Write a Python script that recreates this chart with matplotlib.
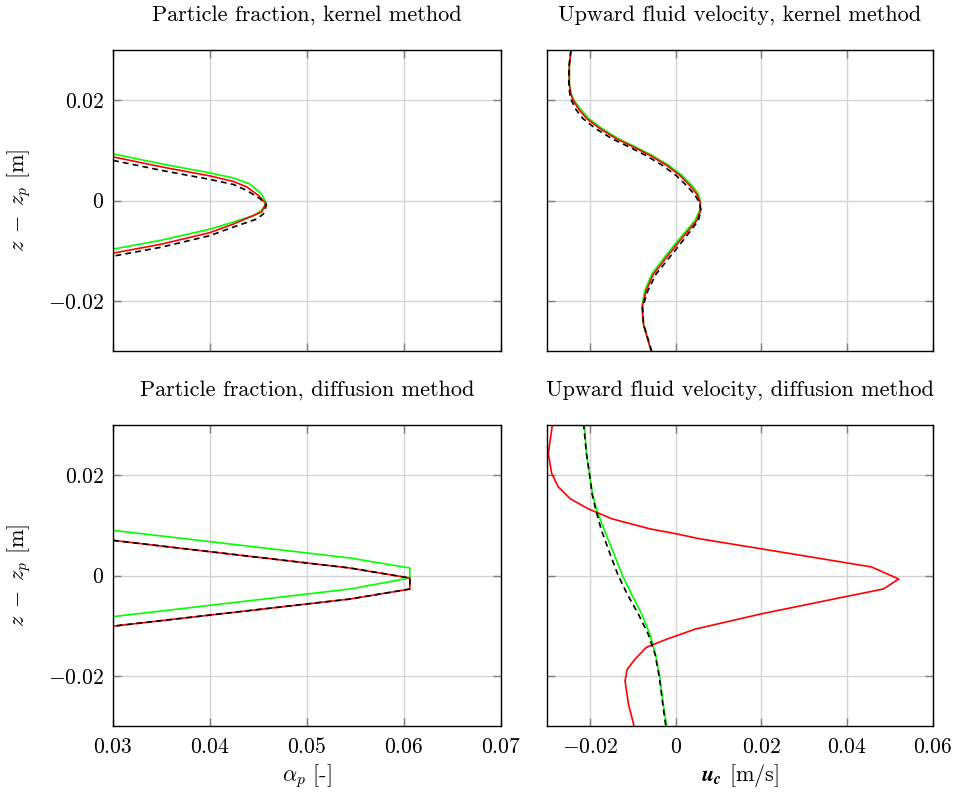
import matplotlib
matplotlib.use("Agg")
import matplotlib.pyplot as plt
from matplotlib.ticker import FixedLocator, FixedFormatter

plt.rcParams['font.family'] = 'serif'
plt.rcParams['font.serif'] = ['cmr10']
plt.rcParams['mathtext.fontset'] = 'cm'
plt.rcParams['axes.formatter.use_mathtext'] = True

# ---------------- data ----------------
# Top-left: particle fraction, kernel method (alpha_p vs z)
z_pk_green = [0.0093, 0.0073, 0.0055, 0.0045, 0.0033, 0.0013, -0.0005, -0.0020, -0.0030, -0.0043, -0.0057, -0.0079, -0.0097]
a_pk_green = [0.0300, 0.0350, 0.0400, 0.0424, 0.0441, 0.0453, 0.0458, 0.0453, 0.0445, 0.0424, 0.0400, 0.0350, 0.0300]
z_pk_red = [0.0087, 0.0067, 0.0049, 0.0038, 0.0027, 0.0010, -0.0007, -0.0023, -0.0033, -0.0047, -0.0064, -0.0087, -0.0105]
a_pk_red = [0.0300, 0.0350, 0.0400, 0.0424, 0.0438, 0.0450, 0.0458, 0.0453, 0.0441, 0.0424, 0.0400, 0.0350, 0.0300]
z_pk_black = [0.0080, 0.0060, 0.0042, 0.0032, 0.0020, 0.0003, -0.0010, -0.0027, -0.0037, -0.0053, -0.0070, -0.0093, -0.0111]
a_pk_black = [0.0300, 0.0350, 0.0400, 0.0424, 0.0438, 0.0452, 0.0458, 0.0455, 0.0448, 0.0424, 0.0400, 0.0350, 0.0300]

# Top-right: upward fluid velocity, kernel method
z_uk = [0.0300, 0.0267, 0.0233, 0.0213, 0.0200, 0.0183, 0.0163, 0.0143, 0.0123, 0.0107, 0.0090,
        0.0070, 0.0050, 0.0030, 0.0013, -0.0003, -0.0020, -0.0040, -0.0080, -0.0113, -0.0147,
        -0.0180, -0.0213, -0.0247, -0.0280, -0.0303]
u_uk_red = [-0.0244, -0.0248, -0.0248, -0.0245, -0.0239, -0.0227, -0.0207, -0.0176, -0.0138, -0.0099, -0.0060,
            -0.0021, 0.0010, 0.0033, 0.0049, 0.0057, 0.0058, 0.0049, 0.0010, -0.0021, -0.0052,
            -0.0069, -0.0078, -0.0075, -0.0064, -0.0056]
u_uk_green = [-0.0244, -0.0248, -0.0248, -0.0244, -0.0237, -0.0223, -0.0202, -0.0171, -0.0133, -0.0094, -0.0055,
              -0.0016, 0.0015, 0.0038, 0.0053, 0.0058, 0.0056, 0.0045, 0.0005, -0.0026, -0.0056,
              -0.0072, -0.0079, -0.0075, -0.0064, -0.0056]
u_uk_black = [-0.0244, -0.0249, -0.0249, -0.0247, -0.0243, -0.0234, -0.0216, -0.0186, -0.0148, -0.0109, -0.0070,
              -0.0031, 0.0001, 0.0025, 0.0043, 0.0055, 0.0059, 0.0053, 0.0017, -0.0014, -0.0046,
              -0.0065, -0.0077, -0.0075, -0.0063, -0.0055]

# Bottom-left: particle fraction, diffusion method
z_pd_green = [0.0090, 0.0035, 0.0015, -0.0005, -0.0027, -0.0082]
a_pd_green = [0.0300, 0.0544, 0.0606, 0.0606, 0.0544, 0.0300]
z_pd_red = [0.0070, 0.0015, -0.0005, -0.0027, -0.0047, -0.0101]
a_pd_red = [0.0300, 0.0544, 0.0606, 0.0606, 0.0544, 0.0300]
z_pd_black = [0.0070, 0.0015, -0.0005, -0.0027, -0.0047, -0.0101]
a_pd_black = [0.0300, 0.0544, 0.0606, 0.0606, 0.0544, 0.0300]

# Bottom-right: upward fluid velocity, diffusion method
z_ud_red = [0.0303, 0.0243, 0.0203, 0.0177, 0.0153, 0.0133, 0.0113, 0.0093, 0.0083, 0.0073, 0.0053,
            0.0017, -0.0007, -0.0027, -0.0043, -0.0077, -0.0107, -0.0127, -0.0143, -0.0167, -0.0187,
            -0.0210, -0.0257, -0.0300]
u_ud_red = [-0.0287, -0.0297, -0.0289, -0.0274, -0.0246, -0.0204, -0.0149, -0.0060, 0.0002, 0.0057, 0.0201,
            0.0457, 0.0520, 0.0484, 0.0391, 0.0197, 0.0045, -0.0021, -0.0068, -0.0095, -0.0113,
            -0.0118, -0.0110, -0.0097]
z_ud = [0.0303, 0.0243, 0.0203, 0.0163, 0.0130, 0.0090, 0.0043, 0.0000, -0.0037, -0.0077,
        -0.0117, -0.0157, -0.0203, -0.0257, -0.0300]
u_ud_green = [-0.0213, -0.0208, -0.0201, -0.0194, -0.0184, -0.0166, -0.0144, -0.0124, -0.0103, -0.0079,
              -0.0060, -0.0047, -0.0037, -0.0029, -0.0021]
u_ud_black = [-0.0215, -0.0208, -0.0201, -0.0195, -0.0186, -0.0173, -0.0153, -0.0134, -0.0113, -0.0087,
              -0.0064, -0.0048, -0.0038, -0.0030, -0.0023]

# ticks
y_ticks = [-0.02, 0.0, 0.02]
y_tick_labels = ['$-0.02$', '$0$', '$0.02$']
xl_ticks = [0.03, 0.04, 0.05, 0.06, 0.07]
xl_tick_labels = ['$0.03$', '$0.04$', '$0.05$', '$0.06$', '$0.07$']
xr_ticks = [-0.02, 0.0, 0.02, 0.04, 0.06]
xr_tick_labels = ['$-0.02$', '$0$', '$0.02$', '$0.04$', '$0.06$']

titles = ['Particle fraction, kernel method', 'Upward fluid velocity, kernel method',
          'Particle fraction, diffusion method', 'Upward fluid velocity, diffusion method']

# ---------------- figure ----------------
W, H = 957, 794
fig = plt.figure(figsize=(W / 100, H / 100), dpi=100)

def ax_at(x0, x1, y0, y1):
    return fig.add_axes([x0 / W, 1 - y1 / H, (x1 - x0) / W, (y1 - y0) / H])

ax_tl = ax_at(113, 501, 50, 351)
ax_tr = ax_at(547, 933, 50, 351)
ax_bl = ax_at(113, 501, 425, 726)
ax_br = ax_at(547, 933, 425, 726)

GREEN = '#00ff00'
RED = '#ff0000'
LW = 1.2
DASH = (0, (3.5, 2.5))
FS = 15.5
FS_T = 16

ax_tl.plot(a_pk_green, z_pk_green, color=GREEN, lw=LW)
ax_tl.plot(a_pk_red, z_pk_red, color=RED, lw=LW)
ax_tl.plot(a_pk_black, z_pk_black, color='black', lw=LW, linestyle=DASH)

ax_tr.plot(u_uk_green, z_uk, color=GREEN, lw=LW)
ax_tr.plot(u_uk_red, z_uk, color=RED, lw=LW)
ax_tr.plot(u_uk_black, z_uk, color='black', lw=LW, linestyle=DASH)

ax_bl.plot(a_pd_green, z_pd_green, color=GREEN, lw=LW)
ax_bl.plot(a_pd_red, z_pd_red, color=RED, lw=LW)
ax_bl.plot(a_pd_black, z_pd_black, color='black', lw=LW, linestyle=DASH)

ax_br.plot(u_ud_green, z_ud, color=GREEN, lw=LW)
ax_br.plot(u_ud_red, z_ud_red, color=RED, lw=LW)
ax_br.plot(u_ud_black, z_ud, color='black', lw=LW, linestyle=DASH)

for i, ax in enumerate([ax_tl, ax_tr, ax_bl, ax_br]):
    left = i % 2 == 0
    bottom = i >= 2
    ax.set_ylim(-0.03, 0.03)
    if left:
        ax.set_xlim(0.03, 0.07)
        ax.xaxis.set_major_locator(FixedLocator(xl_ticks))
        ax.xaxis.set_major_formatter(FixedFormatter(xl_tick_labels))
    else:
        ax.set_xlim(-0.03, 0.06)
        ax.xaxis.set_major_locator(FixedLocator(xr_ticks))
        ax.xaxis.set_major_formatter(FixedFormatter(xr_tick_labels))
    ax.yaxis.set_major_locator(FixedLocator(y_ticks))
    ax.yaxis.set_major_formatter(FixedFormatter(y_tick_labels))
    ax.grid(True, color='#d3d3d3', lw=1.0)
    ax.set_axisbelow(True)
    ax.tick_params(direction='in', length=6, width=1.0, color='#808080',
                   top=True, right=True, labelsize=FS,
                   labelbottom=bottom, labelleft=left)
    ax.tick_params(axis='y', pad=6.5)
    ax.tick_params(axis='x', pad=8)
    for sp in ax.spines.values():
        sp.set_linewidth(1.0)
        sp.set_color('black')
    ax.set_title(titles[i], fontsize=FS_T, pad=21)
    if left:
        ax.set_ylabel(r'$z\;-\;z_p$ [m]', fontsize=FS_T)
        ax.yaxis.set_label_coords(-0.206, 0.5)

ax_bl.set_xlabel(r'$\alpha_p$ [-]', fontsize=FS_T)
ax_bl.xaxis.set_label_coords(0.5, -0.12)
ax_br.set_xlabel(r'$\mathbfit{u}_{\mathbfit{c}}$ [m/s]', fontsize=FS_T, math_fontfamily='stix')
ax_br.xaxis.set_label_coords(0.5, -0.12)

fig.savefig('out.png', dpi=100)
